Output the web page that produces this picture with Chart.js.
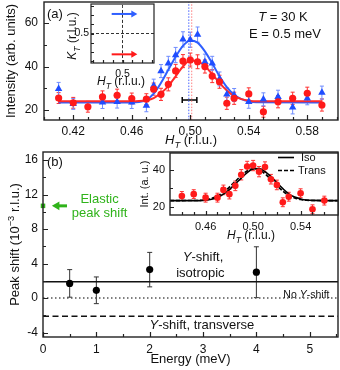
<!DOCTYPE html>
<html>
<head>
<meta charset="utf-8">
<script src="https://cdn.jsdelivr.net/npm/chart.js@4.4.1/dist/chart.umd.min.js"></script>
<style>
  body { margin: 0; background: #fff; width: 340px; height: 370px; overflow: hidden; position: relative; }
  canvas { position: absolute; }
</style>
</head>
<body>
<canvas id="mainA" width="340" height="150" style="left:0;top:0"></canvas>
<canvas id="insetA" width="110" height="90" style="left:50px;top:0"></canvas>
<canvas id="mainB" width="340" height="225" style="left:0;top:145px"></canvas>
<canvas id="insetB" width="210" height="100" style="left:130px;top:148px"></canvas>
<script>
// ---- panel (a): H_T scan, T = 30 K, E = 0.5 meV
var hA = [0.41, 0.42, 0.43, 0.44, 0.45, 0.46, 0.47, 0.475, 0.48, 0.485, 0.49, 0.495, 0.50,
          0.505, 0.51, 0.515, 0.52, 0.525, 0.53, 0.54, 0.55, 0.56, 0.57, 0.58, 0.59];
var redA = [25.5, 23.3, 21.5, 26, 26.8, 25.3, 25, 29.6, 27.2, 31.8, 38, 42.5, 43,
            42.2, 40, 35.6, 33, 23.1, 25.4, 27.4, 19.2, 23.8, 25.4, 27.7, 22.3];
var redErrA = [2.5, 2.5, 2.5, 2.8, 2.8, 2.5, 2.5, 2.8, 2.8, 3, 3, 3, 3.2,
               3.2, 3, 3, 3, 2.8, 2.8, 2.8, 2.5, 2.8, 2.8, 2.8, 2.8];
var blueA = [29.7, 22.8, null, 23.5, 23.7, 23.5, 22, 31.2, 37.9, 41.5, 45.3, 52.5, 52.3,
             54.7, 42.2, 41.5, 34.3, 27.2, 26.9, 23.8, 24.9, 26.1, 21.2, 25.4, 28];
var blueErrA = [3, 2.5, 0, 2.8, 2.8, 2.8, 2.8, 3, 3, 3.2, 3.5, 3.5, 3.5,
                3.5, 3.5, 3.2, 3.2, 3, 3, 3, 3, 3, 3, 3, 3];
var fitH = [0.41, 0.46, 0.465, 0.47, 0.475, 0.48, 0.485, 0.49, 0.495, 0.50, 0.505,
            0.51, 0.515, 0.52, 0.525, 0.53, 0.535, 0.54, 0.545, 0.59];
var blueFit = [23.5, 23.5, 23.7, 24.6, 27.5, 32.5, 38.5, 44.5, 49.5, 52, 51,
               47, 41.5, 35.5, 30.5, 27, 25, 24, 23.6, 23.5];
var redFit = [24, 24, 24.1, 24.5, 25.5, 27.8, 31, 35.5, 40, 42.8, 42.5,
              40.2, 36.5, 32.5, 29, 26.4, 25, 24.3, 24, 24];
var peakBlueH = 0.499, peakRedH = 0.501;
var resolutionH = [0.4945, 0.5045], resolutionLevel = 24.6;
var xTicksA = [0.40, 0.41, 0.42, 0.43, 0.44, 0.45, 0.46, 0.47, 0.48, 0.49, 0.50,
               0.51, 0.52, 0.53, 0.54, 0.55, 0.56, 0.57, 0.58, 0.59, 0.60];
var xLabelsA = [0.42, 0.46, 0.50, 0.54, 0.58];
var yTicksA = [20, 30, 40, 50, 60];
var yLabelsA = [20, 40, 60];
var hMinA = 0.40, hMaxA = 0.601, iMinA = 15.4, iMaxA = 69.7;

// inset of (a): domain sketch
var kTicks = [0.35, 0.40, 0.45, 0.50, 0.55, 0.60, 0.65];
var kMin = 0.34, kMax = 0.66;
var arrowH = [0.445, 0.555];
var arrowBlueK = 0.606, arrowRedK = 0.387;

// ---- panel (b): peak shift vs energy
var energyB = [0.5, 1, 2, 4];
var shiftB = [1.7, 0.9, 3.3, 3.0];
var shiftErrB = [1.6, 1.55, 2.0, 2.95];
var elasticShift = 10.7;
var elasticArrowE = [0.45, 0.26];
var isoShift = 1.9, noShift = 0, transShift = -2.1;
var xTicksB = [0, 0.5, 1, 1.5, 2, 2.5, 3, 3.5, 4, 4.5, 5, 5.5];
var xLabelsB = [0, 1, 2, 3, 4, 5];
var yTicksB = [-4, -2, 0, 2, 4, 6, 8, 10, 12, 14, 16];
var yLabelsB = [-4, 0, 4, 8, 12, 16];
var eMin = 0, eMax = 5.53, sMin = -4.52, sMax = 16.95;

// inset of (b): data with isotropic / transverse model curves
var insetH = [0.44, 0.45, 0.46, 0.47, 0.475, 0.48, 0.485, 0.49, 0.495, 0.50,
              0.505, 0.51, 0.515, 0.52, 0.525, 0.53, 0.54, 0.55, 0.56];
var insetI = [25.8, 26.8, 24.9, 24.9, 29.1, 26.8, 31.3, 37.3, 41.8, 42.3,
              39, 41.5, 34.9, 31.8, 22.4, 25.4, 27.3, 18.6, 23.3];
var insetErr = [2.4, 2.4, 2.4, 2.4, 2.6, 2.6, 2.6, 2.8, 2.8, 2.8,
                2.8, 2.8, 2.6, 2.6, 2.4, 2.4, 2.4, 2.4, 2.4];
var insetFitH = [0.43, 0.455, 0.46, 0.465, 0.47, 0.475, 0.48, 0.485, 0.49, 0.495, 0.50,
                 0.505, 0.51, 0.515, 0.52, 0.525, 0.53, 0.535, 0.54, 0.545, 0.55, 0.5715];
var isoFit = [23.3, 23.3, 23.5, 24, 25, 26.8, 29.3, 32.3, 35.5, 38.5, 40.5,
              40.7, 39, 36.3, 33, 29.8, 27, 25.2, 24.2, 23.6, 23.4, 23.3];
var transFit = [23.3, 23.4, 23.75, 24.5, 25.75, 27.9, 30.65, 33.75, 36.9, 39.4, 40.6,
                40, 37.8, 34.8, 31.5, 28.5, 26.15, 24.7, 23.9, 23.5, 23.35, 23.3];
var xTicksI = [0.44, 0.45, 0.46, 0.47, 0.48, 0.49, 0.50, 0.51, 0.52, 0.53, 0.54, 0.55, 0.56];
var xLabelsI = [0.46, 0.50, 0.54];
var yTicksI = [20, 30, 40];
var yLabelsI = [20, 40];
var hMinI = 0.43, hMaxI = 0.5715, iMinI = 15.5, iMaxI = 49.1;

var FONT = "'Liberation Sans', Arial, Helvetica, sans-serif";
var RED = '#ff1a1a', BLUE = '#1f4dff', GREEN = '#2fb31a';
Chart.defaults.font.family = FONT;
Chart.defaults.color = '#111';

function pts(xs, ys) {
  return xs.map(function (x, i) { return { x: x, y: ys[i] }; });
}

// text with italic / sub / superscript parts, centred on (x, y)
function rich(ctx, parts, x, y, size, opt) {
  opt = opt || {};
  ctx.save();
  ctx.translate(x, y);
  if (opt.rotate) ctx.rotate(-Math.PI / 2);
  ctx.fillStyle = opt.color || '#111';
  ctx.textBaseline = 'alphabetic';
  var items = parts.map(function (p) {
    if (typeof p === 'string') p = { t: p };
    var s = (p.sub || p.sup) ? size * 0.72 : size;
    var font = (p.it ? 'italic ' : '') + s + 'px ' + FONT;
    ctx.font = font;
    return { t: p.t, font: font, w: ctx.measureText(p.t).width,
             dy: p.sub ? size * 0.3 : (p.sup ? -size * 0.42 : 0) };
  });
  var total = items.reduce(function (a, b) { return a + b.w; }, 0);
  var cx = opt.align === 'left' ? 0 : (opt.align === 'right' ? -total : -total / 2);
  items.forEach(function (it) {
    ctx.font = it.font;
    ctx.fillText(it.t, cx, size * 0.36 + it.dy);
    cx += it.w;
  });
  ctx.restore();
}

// box round the plot, inward ticks, optional white fill
Chart.register({
  id: 'frame',
  beforeDraw: function (chart, args, o) {
    if (!o.fill) return;
    var a = chart.chartArea, ctx = chart.ctx;
    ctx.save();
    ctx.fillStyle = '#fff';
    ctx.fillRect(a.left, a.top, a.right - a.left, a.bottom - a.top);
    ctx.restore();
  },
  afterDraw: function (chart, args, o) {
    var ctx = chart.ctx, a = chart.chartArea, x = chart.scales.x, y = chart.scales.y;
    var major = o.major || 5, minor = o.minor || 3;
    ctx.save();
    ctx.strokeStyle = '#222';
    ctx.lineWidth = o.lw || 1.2;
    ctx.beginPath();
    x.ticks.forEach(function (t) {
      var px = Math.round(x.getPixelForValue(t.value)) + 0.5;
      ctx.moveTo(px, a.bottom);
      ctx.lineTo(px, a.bottom - (t.label ? major : minor));
    });
    y.ticks.forEach(function (t) {
      var py = Math.round(y.getPixelForValue(t.value)) + 0.5;
      ctx.moveTo(a.left, py);
      ctx.lineTo(a.left + (t.label ? major : minor), py);
    });
    ctx.stroke();
    ctx.lineWidth = o.bw || 1.4;
    ctx.strokeRect(a.left, a.top, a.right - a.left, a.bottom - a.top);
    ctx.restore();
  }
});

// vertical error bars from dataset.err
Chart.register({
  id: 'errorBars',
  beforeDatasetsDraw: function (chart) {
    var ctx = chart.ctx, x = chart.scales.x, y = chart.scales.y;
    chart.data.datasets.forEach(function (ds) {
      if (!ds.err) return;
      ctx.save();
      ctx.strokeStyle = ds.errColor || ds.borderColor;
      ctx.lineWidth = 1;
      ctx.beginPath();
      var c = ds.cap || 2;
      ds.data.forEach(function (p, i) {
        if (p.y == null) return;
        var px = x.getPixelForValue(p.x);
        var y1 = y.getPixelForValue(p.y - ds.err[i]), y2 = y.getPixelForValue(p.y + ds.err[i]);
        ctx.moveTo(px, y1); ctx.lineTo(px, y2);
        ctx.moveTo(px - c, y1); ctx.lineTo(px + c, y1);
        ctx.moveTo(px - c, y2); ctx.lineTo(px + c, y2);
      });
      ctx.stroke();
      ctx.restore();
    });
  }
});

function axis(min, max, ticks, labelled, fmt, size, pad, dim, title) {
  return {
    type: 'linear', min: min, max: max,
    afterBuildTicks: function (s) { s.ticks = ticks.map(function (v) { return { value: v }; }); },
    afterFit: function (s) {
      // fixed axis size, and no extra room for labels at the ends
      if (s.isHorizontal()) s.height = dim; else s.width = dim;
      s.paddingTop = s.paddingBottom = s.paddingLeft = s.paddingRight = 0;
    },
    ticks: {
      font: { size: size }, color: '#111', padding: pad, autoSkip: false, maxRotation: 0, minRotation: 0,
      callback: function (v) {
        return labelled.some(function (m) { return Math.abs(m - v) < 1e-9; }) ? fmt(v) : '';
      }
    },
    grid: { display: false, drawTicks: false },
    border: { display: false },
    title: title || { display: false }
  };
}

function mkChart(id, cfg) {
  return new Chart(document.getElementById(id), {
    type: 'scatter',
    data: { datasets: cfg.datasets },
    options: {
      responsive: false, animation: false, devicePixelRatio: 1, events: [],
      layout: { padding: cfg.pad, autoPadding: false },
      scales: { x: cfg.x, y: cfg.y },
      plugins: { legend: { display: false }, tooltip: { enabled: false }, frame: cfg.frame }
    },
    plugins: [{ id: 'text_' + id, afterDraw: cfg.draw }]
  });
}

function line(data, color, width, dash, order) {
  return { data: data, showLine: true, pointRadius: 0, borderColor: color, borderWidth: width,
           borderDash: dash || [], order: order, cubicInterpolationMode: 'monotone' };
}

function fixed2(v) { return v.toFixed(2); }
function plain(v) { return String(v); }

// ---- chart (a)
mkChart('mainA', {
  pad: { left: 0, right: 2, top: 2, bottom: 0 },
  x: axis(hMinA, hMaxA, xTicksA, xLabelsA, fixed2, 12, 4, 30),
  y: axis(iMinA, iMaxA, yTicksA, yLabelsA, plain, 12, 6, 44),
  frame: { major: 5, minor: 3 },
  datasets: [
    { data: pts(hA, redA), err: redErrA, errColor: '#ff3030', pointStyle: 'circle', pointRadius: 3.6,
      backgroundColor: RED, borderColor: RED, borderWidth: 0, order: 1 },
    { data: pts(hA, blueA), err: blueErrA, errColor: '#6f8cff', pointStyle: 'triangle', pointRadius: 4.3,
      backgroundColor: BLUE, borderColor: BLUE, borderWidth: 0, order: 2 },
    line(pts(fitH, redFit), '#ff2a2a', 2, null, 3),
    line(pts(fitH, blueFit), '#2f5fff', 2, null, 4),
    line([{ x: peakRedH, y: iMinA }, { x: peakRedH, y: iMaxA }], '#ff8080', 1, [1.5, 1.5], 5),
    line([{ x: peakBlueH, y: iMinA }, { x: peakBlueH, y: iMaxA }], '#4a66ff', 1, [1.5, 1.5], 6),
    { data: pts(resolutionH, [resolutionLevel, resolutionLevel]), showLine: true, borderColor: '#000',
      borderWidth: 1.5, pointStyle: 'line', rotation: 90, pointRadius: 3, pointBorderWidth: 1.5,
      pointBorderColor: '#000', order: 7 }
  ],
  draw: function (chart) {
    var ctx = chart.ctx, a = chart.chartArea;
    rich(ctx, ['(a)'], a.left + 3, 13, 13, { align: 'left' });
    rich(ctx, [{ t: 'T', it: true }, ' = 30 K'], 283, 16, 13);
    rich(ctx, ['E = 0.5 meV'], 285, 33, 13);
    rich(ctx, ['Intensity (arb. units)'], 10, (a.top + a.bottom) / 2, 13, { rotate: true });
    rich(ctx, [{ t: 'H', it: true }, { t: 'T', it: true, sub: true }, ' (r.l.u.)'],
         (a.left + a.right) / 2, 139.5, 13);
  }
});

// ---- inset of (a)
mkChart('insetA', {
  pad: { left: 0, right: 6, top: 4, bottom: 0 },
  x: axis(kMin, kMax, kTicks, [0.5], function () { return '0.5'; }, 10.5, 5, 27),
  y: axis(kMin, kMax, kTicks, [0.5], function () { return '0.5'; }, 10.5, 2, 41),
  frame: { fill: true, major: 3, minor: 3, bw: 1.2 },
  datasets: [
    { data: pts(arrowH, [arrowBlueK, arrowBlueK]), showLine: true, borderColor: '#2f5fff', borderWidth: 2,
      pointStyle: 'triangle', rotation: 90, pointRadius: [0, 4], backgroundColor: '#2f5fff',
      pointBorderWidth: 0, order: 1 },
    { data: pts(arrowH, [arrowRedK, arrowRedK]), showLine: true, borderColor: RED, borderWidth: 2,
      pointStyle: 'triangle', rotation: 90, pointRadius: [0, 4], backgroundColor: RED,
      pointBorderWidth: 0, order: 2 },
    line([{ x: 0.5, y: kMin }, { x: 0.5, y: kMax }], '#333', 1, [3, 2], 3),
    line([{ x: kMin, y: 0.5 }, { x: kMax, y: 0.5 }], '#333', 1, [3, 2], 4)
  ],
  draw: function (chart) {
    var ctx = chart.ctx;
    rich(ctx, [{ t: 'K', it: true }, { t: 'T', it: true, sub: true }, ' (r.l.u.)'], 22, 36, 12, { rotate: true });
    rich(ctx, [{ t: 'H', it: true }, { t: 'T', it: true, sub: true }, ' (r.l.u.)'], 71, 81, 12);
  }
});

// ---- chart (b)
mkChart('mainB', {
  pad: { left: 0, right: 2, top: 7, bottom: 0 },
  x: axis(eMin, eMax, xTicksB, xLabelsB, plain, 12, 5, 33,
          { display: true, text: 'Energy (meV)', font: { size: 13 }, color: '#111', padding: { top: 0, bottom: 3 } }),
  y: axis(sMin, sMax, yTicksB, yLabelsB, plain, 12, 5, 43),
  frame: { major: 5, minor: 3 },
  datasets: [
    { data: pts(energyB, shiftB), err: shiftErrB, errColor: '#333', cap: 2.5, pointStyle: 'circle',
      pointRadius: 3.6, backgroundColor: '#000', borderColor: '#000', borderWidth: 0, order: 1 },
    { data: [{ x: 0, y: elasticShift }], pointStyle: 'rect', pointRadius: 3.2, backgroundColor: GREEN,
      borderColor: GREEN, borderWidth: 0, clip: false, order: 2 },
    { data: pts(elasticArrowE, [elasticShift, elasticShift]), showLine: true, borderColor: GREEN, borderWidth: 3,
      pointStyle: 'triangle', rotation: -90, pointRadius: [0, 5], backgroundColor: GREEN,
      pointBorderWidth: 0, order: 3 },
    line([{ x: eMin, y: isoShift }, { x: eMax, y: isoShift }], '#111', 1.4, null, 4),
    line([{ x: eMin, y: noShift }, { x: eMax, y: noShift }], '#555', 1.4, [1.5, 2.5], 5),
    line([{ x: eMin, y: transShift }, { x: eMax, y: transShift }], '#111', 1.5, [6, 3.5], 6)
  ],
  draw: function (chart) {
    var ctx = chart.ctx, a = chart.chartArea, x = chart.scales.x, y = chart.scales.y;
    rich(ctx, ['(b)'], a.left + 4, a.top + 9, 13, { align: 'left' });
    rich(ctx, ['Peak shift (10', { t: '\u22123', sup: true }, ' r.l.u.)'], 14.5, (a.top + a.bottom) / 2, 13, { rotate: true });
    rich(ctx, ['Elastic'], x.getPixelForValue(1.06), y.getPixelForValue(11.6), 13, { color: GREEN });
    rich(ctx, ['peak shift'], x.getPixelForValue(1.06), y.getPixelForValue(10.0), 13, { color: GREEN });
    rich(ctx, [{ t: 'Y', it: true }, '-shift,'], x.getPixelForValue(3.0), y.getPixelForValue(4.8), 13);
    rich(ctx, ['isotropic'], x.getPixelForValue(2.95), y.getPixelForValue(2.95), 13);
    rich(ctx, [{ t: 'Y', it: true }, '-shift, transverse'], x.getPixelForValue(2.98), y.getPixelForValue(-3.1), 13);
    rich(ctx, ['No ', { t: 'Y', it: true }, '-shift'], x.getPixelForValue(5.37), y.getPixelForValue(0.45), 10.5, { align: 'right' });
  }
});

// ---- inset of (b)
mkChart('insetB', {
  pad: { left: 0, right: 2, top: 5, bottom: 0 },
  x: axis(hMinI, hMaxI, xTicksI, xLabelsI, fixed2, 11, 5, 33),
  y: axis(iMinI, iMaxI, yTicksI, yLabelsI, plain, 11, 5, 40,
          { display: true, text: 'Int. (a. u.)', font: { size: 11 }, color: '#111', padding: { top: 8, bottom: 0 } }),
  frame: { fill: true, major: 4, minor: 3 },
  datasets: [
    { data: pts(insetH, insetI), err: insetErr, errColor: '#ff3030', pointStyle: 'circle', pointRadius: 3.3,
      backgroundColor: RED, borderColor: RED, borderWidth: 0, order: 1 },
    line(pts(insetFitH, isoFit), '#000', 1.6, null, 2),
    line(pts(insetFitH, transFit), '#000', 1.6, [4, 2], 3)
  ],
  draw: function (chart) {
    var ctx = chart.ctx;
    rich(ctx, [{ t: 'H', it: true }, { t: 'T', it: true, sub: true }, ' (r.l.u.)'], 121, 87, 12);
    ctx.save();
    ctx.strokeStyle = '#000';
    ctx.lineWidth = 1.6;
    ctx.beginPath(); ctx.moveTo(148, 9.5); ctx.lineTo(164, 9.5); ctx.stroke();
    ctx.setLineDash([4, 2]);
    ctx.beginPath(); ctx.moveTo(148, 22.5); ctx.lineTo(164, 22.5); ctx.stroke();
    ctx.restore();
    rich(ctx, ['Iso'], 171, 9, 11, { align: 'left' });
    rich(ctx, ['Trans'], 168, 22, 11, { align: 'left' });
  }
});
</script>
</body>
</html>
